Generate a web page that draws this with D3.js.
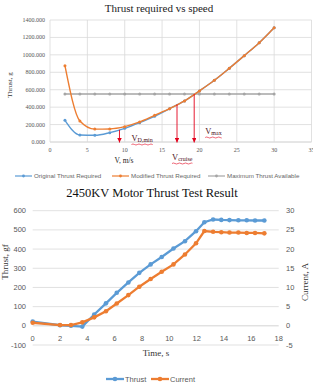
<!DOCTYPE html>
<html><head><meta charset="utf-8">
<script src="https://cdn.jsdelivr.net/npm/d3@7"></script>
<style>body{margin:0;background:#fff}svg{display:block}</style>
</head><body><svg id="c" width="313" height="388"></svg>
<script>
// ---- Top chart data ----
const speeds = [2,4,6,8,10,12,14,16,18,20,22,24,26,28,30];
const originalThrust = [249,80,77,107,157,222,295,382,471,586,708,846,991,1140,1312];
const modifiedThrust = [876,241,148,150,176,230,306,382,471,586,708,846,991,1140,1312];
const maxThrust = [550,550,550,550,550,550,550,550,550,550,550,550,550,550,550];
const topXTicks = [0,5,10,15,20,25,30,35];
const topYTicks = [0,200,400,600,800,1000,1200,1400];
const arrowSpeeds = [9.3,17.0,19.3];
const arrowTops = [140,430,550];
const topLegend = ["Original Thrust Required","Modified Thrust Required","Maximum Thrust Available"];

// ---- Bottom chart data ----
const times = [0,2,2.8,3.63,4.5,5.36,6.15,7.0,7.8,8.63,9.44,10.3,11.14,11.95,12.56,13.2,13.8,14.4,15.05,15.66,16.27,16.95];
const thrustGf = [22,3,0,-4,59,117,172,226,276,320,359,403,441,493,540,554,552,551,550,550,549,549];
const currentA = [0.8,0.2,0.2,0.9,2.2,3.8,5.8,8.0,10.2,12.2,14.1,16.0,18.6,21.5,24.7,24.5,24.4,24.3,24.3,24.2,24.2,24.1];
const botXTicks = [0,2,4,6,8,10,12,14,16,18];
const botYLTicks = [-100,0,100,200,300,400,500,600];
const botYRTicks = [-5,0,5,10,15,20,25,30];
const botLegend = ["Thrust","Current"];

const BLUE="#5B9BD5", ORANGE="#ED7D31", GRAY="#A5A5A5", GRID="#D9D9D9";
const svg = d3.select("#c");
const serif = "'Liberation Serif','Times New Roman',serif";
const sans = "'Liberation Sans',Arial,sans-serif";

// ================= TOP CHART =================
const x1 = d3.scaleLinear().domain([0,35]).range([50,311.5]);
const y1 = d3.scaleLinear().domain([0,1400]).range([142,20]);
const g1 = svg.append("g");
g1.append("text").attr("x",159).attr("y",12).attr("text-anchor","middle")
  .attr("font-family",serif).attr("font-size",11).attr("fill","#222").text("Thrust required vs speed");
g1.selectAll(".hg").data(topYTicks).enter().append("line")
  .attr("x1",x1(0)).attr("x2",x1(35)).attr("y1",d=>y1(d)).attr("y2",d=>y1(d))
  .attr("stroke",d=>d===0?"#BFBFBF":GRID).attr("stroke-width",0.8);
g1.selectAll(".vg").data(topXTicks).enter().append("line")
  .attr("x1",d=>x1(d)).attr("x2",d=>x1(d)).attr("y1",y1(1400)).attr("y2",y1(0))
  .attr("stroke",GRID).attr("stroke-width",0.8);
g1.selectAll(".yl").data(topYTicks).enter().append("text")
  .attr("x",45).attr("y",d=>y1(d)+2).attr("text-anchor","end")
  .attr("font-family",serif).attr("font-size",6).attr("fill","#555").text(d=>d3.format(".3f")(d));
g1.selectAll(".xl").data(topXTicks).enter().append("text")
  .attr("x",d=>x1(d)).attr("y",152).attr("text-anchor","middle")
  .attr("font-family",serif).attr("font-size",6).attr("fill","#555").text(d=>d);
g1.append("text").attr("transform","translate(12,85) rotate(-90)").attr("text-anchor","middle")
  .attr("font-family",serif).attr("font-size",7).attr("fill","#333").text("Thrust, g");
g1.append("text").attr("x",124).attr("y",163).attr("text-anchor","middle")
  .attr("font-family",serif).attr("font-size",7.5).attr("fill","#222").text("V, m/s");

const topSeries = [
  {vals:originalThrust,color:BLUE},
  {vals:maxThrust,color:GRAY},
  {vals:modifiedThrust,color:ORANGE}
];
const line1 = d3.line().x(d=>x1(d[0])).y(d=>y1(d[1])).curve(d3.curveMonotoneX);
topSeries.forEach(s=>{
  const pts = speeds.map((v,i)=>[v,s.vals[i]]);
  g1.append("path").attr("d",line1(pts)).attr("fill","none").attr("stroke",s.color).attr("stroke-width",1.4);
  g1.selectAll(null).data(pts).enter().append("circle")
    .attr("cx",d=>x1(d[0])).attr("cy",d=>y1(d[1])).attr("r",1.5).attr("fill",s.color);
});
// arrows
const defs = svg.append("defs");
defs.append("marker").attr("id","ah").attr("viewBox","0 0 10 10").attr("refX",10).attr("refY",5)
  .attr("markerWidth",5).attr("markerHeight",5).attr("orient","auto")
  .append("path").attr("d","M0,0L10,5L0,10z").attr("fill","#E3001B");
arrowSpeeds.forEach((v,i)=>{
  g1.append("line").attr("x1",x1(v)).attr("x2",x1(v)).attr("y1",y1(arrowTops[i])).attr("y2",y1(0)+0.5)
    .attr("stroke","#E3001B").attr("stroke-width",0.9).attr("marker-end","url(#ah)");
});
function vLabel(x,y,sub){
  const t = g1.append("text").attr("x",x).attr("y",y).attr("font-family",serif).attr("font-size",8.5).attr("fill","#4a1020");
  t.append("tspan").text("V");
  t.append("tspan").attr("font-size",6).attr("dy",1).text(sub);
  const w = t.node().getComputedTextLength();
  g1.append("path").attr("d",`M${x},${y+3.5} q1.5,-1 3,0 t3,0 t3,0 t3,0 t3,0 t3,0 t3,0 t3,0`)
    .attr("fill","none").attr("stroke","#E3001B").attr("stroke-width",0.6)
    .attr("stroke-dasharray",`${w} 100`);
}
vLabel(x1(arrowSpeeds[0])+12,141,"D,min");
vLabel(x1(arrowSpeeds[1])-5,160,"cruise");
vLabel(x1(arrowSpeeds[2])+11,134,"max");
// top legend
const tl = [{c:BLUE,x:15},{c:ORANGE,x:112},{c:GRAY,x:208}];
tl.forEach((d,i)=>{
  g1.append("line").attr("x1",d.x).attr("x2",d.x+17).attr("y1",176).attr("y2",176).attr("stroke",d.c).attr("stroke-width",1.2);
  g1.append("circle").attr("cx",d.x+8.5).attr("cy",176).attr("r",1.4).attr("fill",d.c);
  g1.append("text").attr("x",d.x+19).attr("y",178).attr("font-family",sans).attr("font-size",6.2).attr("fill","#666").text(topLegend[i]);
});

// ================= BOTTOM CHART =================
const x2 = d3.scaleLinear().domain([0,18]).range([32.7,278.7]);
const yL = d3.scaleLinear().domain([-100,600]).range([345,210.7]);
const yR = d3.scaleLinear().domain([-5,30]).range([345,210.7]);
const g2 = svg.append("g");
g2.append("text").attr("x",152).attr("y",197).attr("text-anchor","middle")
  .attr("font-family",serif).attr("font-size",12.5).attr("fill","#111").text("2450KV Motor Thrust Test Result");
g2.selectAll(null).data(botYLTicks).enter().append("line")
  .attr("x1",x2(0)).attr("x2",x2(18)).attr("y1",d=>yL(d)).attr("y2",d=>yL(d))
  .attr("stroke",d=>d===0?"#C8C8C8":GRID).attr("stroke-width",0.8);
g2.selectAll(null).data(botYLTicks).enter().append("text")
  .attr("x",26).attr("y",d=>yL(d)+2.6).attr("text-anchor","end")
  .attr("font-family",sans).attr("font-size",7.5).attr("fill","#595959").text(d=>d);
g2.selectAll(null).data(botYRTicks).enter().append("text")
  .attr("x",286).attr("y",d=>yR(d)+2.6).attr("text-anchor","start")
  .attr("font-family",sans).attr("font-size",7.5).attr("fill","#595959").text(d=>d);
g2.selectAll(null).data(botXTicks).enter().append("text")
  .attr("x",d=>x2(d)).attr("y",340.5).attr("text-anchor","middle")
  .attr("font-family",sans).attr("font-size",7.5).attr("fill","#595959").text(d=>d);
g2.append("text").attr("x",156).attr("y",356).attr("text-anchor","middle")
  .attr("font-family",serif).attr("font-size",9).attr("fill","#333").text("Time, s");
g2.append("text").attr("transform","translate(8,262) rotate(-90)").attr("text-anchor","middle")
  .attr("font-family",serif).attr("font-size",9).attr("fill","#333").text("Thrust, gf");
g2.append("text").attr("transform","translate(308,282) rotate(-90)").attr("text-anchor","middle")
  .attr("font-family",serif).attr("font-size",9).attr("fill","#333").text("Current, A");

const lineL = d3.line().x(d=>x2(d[0])).y(d=>yL(d[1]));
const lineR = d3.line().x(d=>x2(d[0])).y(d=>yR(d[1]));
const thrPts = times.map((t,i)=>[t,thrustGf[i]]);
const curPts = times.map((t,i)=>[t,currentA[i]]);
g2.append("path").attr("d",lineL(thrPts)).attr("fill","none").attr("stroke",BLUE).attr("stroke-width",2.3);
g2.selectAll(null).data(thrPts).enter().append("circle")
  .attr("cx",d=>x2(d[0])).attr("cy",d=>yL(d[1])).attr("r",2.3).attr("fill",BLUE);
g2.append("path").attr("d",lineR(curPts)).attr("fill","none").attr("stroke",ORANGE).attr("stroke-width",2.3);
g2.selectAll(null).data(curPts).enter().append("circle")
  .attr("cx",d=>x2(d[0])).attr("cy",d=>yR(d[1])).attr("r",2.3).attr("fill",ORANGE);
// bottom legend
const bl = [{c:BLUE,x:106},{c:ORANGE,x:151}];
bl.forEach((d,i)=>{
  g2.append("line").attr("x1",d.x).attr("x2",d.x+18).attr("y1",379).attr("y2",379).attr("stroke",d.c).attr("stroke-width",2.3);
  g2.append("circle").attr("cx",d.x+9).attr("cy",379).attr("r",2.3).attr("fill",d.c);
  g2.append("text").attr("x",d.x+19).attr("y",381.5).attr("font-family",sans).attr("font-size",7.5).attr("fill","#595959").text(botLegend[i]);
});
</script></body></html>
